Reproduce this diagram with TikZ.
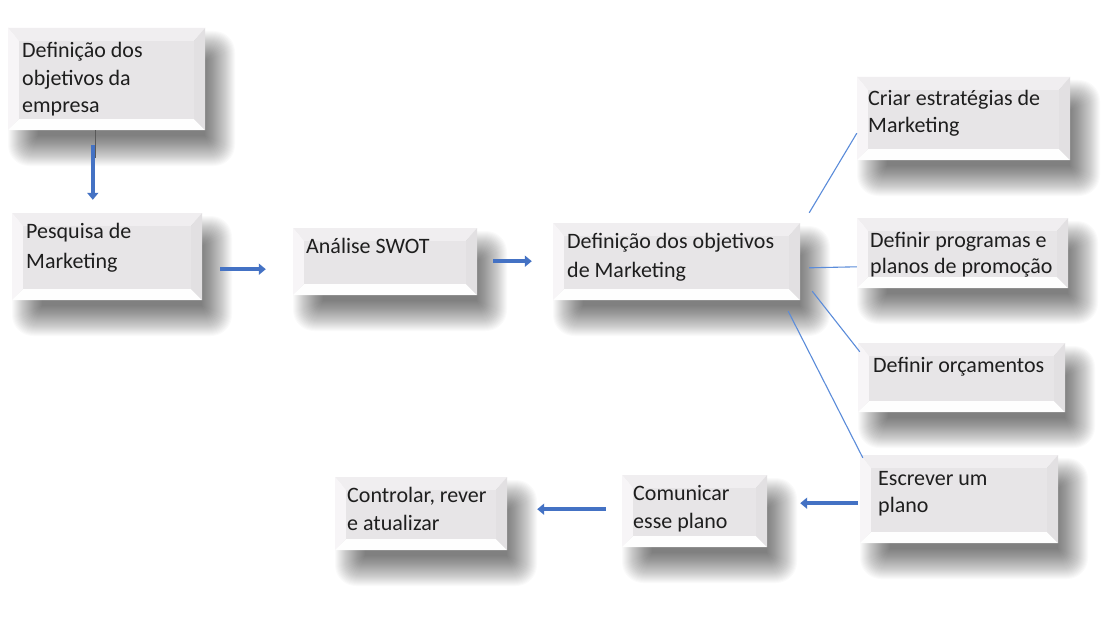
\documentclass[tikz,border=0pt]{standalone}
\usepackage{fontspec}
\setmainfont{Carlito}
\usetikzlibrary{arrows.meta,calc,fit}
\definecolor{bevin}{RGB}{231,229,231}
\definecolor{bevtop}{RGB}{240,238,240}
\definecolor{bevleft}{RGB}{247,245,247}
\definecolor{bevright}{RGB}{226,224,226}
\definecolor{bevbot}{RGB}{254,254,254}
\definecolor{arrblue}{RGB}{68,114,196}
\definecolor{lineblue}{RGB}{91,140,218}
\definecolor{txtc}{RGB}{30,30,30}
\tikzset{
  arr/.style={draw=arrblue, line width=4.5pt, -{Triangle[length=7pt,width=11pt]}},
  thinl/.style={draw=lineblue, line width=1.1pt},
  txt/.style={inner sep=0pt, anchor=base west, align=left, text=txtc,
    font=\fontsize{22}{28}\selectfont},
  boxnode/.style={inner sep=0pt}
}
\newcommand{\bevbox}[5]{%
  \foreach \s in {-14,-13,...,16} {
    \pgfmathsetmacro\rc{max(0.5,(\s+14)*0.7)}
    \fill[black, opacity=0.021, rounded corners=\rc pt]
      (#2+16-\s, #3+19-\s) rectangle (#4+14+\s, #5+20+\s);
  }
  \fill[bevtop] (#2,#3) -- (#4,#3) -- (#4-11,#3+13) -- (#2+11,#3+13) -- cycle;
  \fill[bevleft] (#2,#3) -- (#2+11,#3+13) -- (#2+11,#5-11) -- (#2,#5) -- cycle;
  \fill[bevright] (#4,#3) -- (#4-11,#3+13) -- (#4-11,#5-11) -- (#4,#5) -- cycle;
  \fill[bevbot] (#2,#5) -- (#2+11,#5-11) -- (#4-11,#5-11) -- (#4,#5) -- cycle;
  \fill[bevin] (#2+11,#3+13) rectangle (#4-11,#5-11);
  \node[boxnode, fit={(#2,#3) (#4,#5)}] (#1) {};
}
\begin{document}
\begin{tikzpicture}[x=1pt,y=-1pt]
\useasboundingbox[fill=white] (0,0) rectangle (1102,623);

\bevbox{b1}{8}{28}{205}{130}
\bevbox{b2}{12}{213}{202}{300}
\bevbox{b3}{293}{228}{477}{295}
\bevbox{b4}{553}{223}{800}{300}
\bevbox{b5}{857}{77}{1070}{160}
\bevbox{b6}{857}{218}{1068}{288}
\bevbox{b7}{858}{343}{1065}{412}
\bevbox{b8}{860}{455}{1058}{543}
\bevbox{b9}{622}{475}{767}{547}
\bevbox{b10}{335}{477}{507}{550}

% anchor = baseline of the last line
\node[txt, font=\fontsize{22}{27.5}\selectfont] (t1) at (22,113) {Definição dos\\objetivos da\\empresa};
\node[txt, font=\fontsize{22}{30}\selectfont] (t2) at (26,268) {Pesquisa de\\Marketing};
\node[txt] (t3) at (306,253) {Análise SWOT};
\node[txt, font=\fontsize{22}{29}\selectfont] (t4) at (567,277) {Definição dos objetivos\\de Marketing};
\node[txt, font=\fontsize{22}{27}\selectfont] (t5) at (868,132) {Criar estratégias de\\Marketing};
\node[txt, font=\fontsize{22}{26}\selectfont] (t6) at (870,273) {Definir programas e\\planos de promoção};
\node[txt] (t7) at (873,372) {Definir orçamentos};
\node[txt, font=\fontsize{22}{27}\selectfont] (t8) at (878,512) {Escrever um\\plano};
\node[txt] (t9) at (633,528) {Comunicar\\esse plano};
\node[txt] (t10) at (347,530) {Controlar, rever\\e atualizar};

% thin grey stub below first box
\draw[gray!70!black, line width=0.8pt] ($(b1.south west)+(88,0)$) -- ($(b1.south west)+(88,28)$);

% thick arrows
\draw[arr] ($(b1.south west)+(85,15)$) -- ($(b2.north west)+(81,-13)$);
\draw[arr] ($(b2.south east)+(18,-31)$) -- ($(b3.south west)+(-27,-26)$);
\draw[arr] ($(b3.south east)+(16,-34)$) -- ($(b4.south west)+(-21,-39)$);
\draw[arr] ($(b8.south west)+(-2,-40)$) -- ($(b9.south east)+(33,-44)$);
\draw[arr] ($(b9.south west)+(-16,-38)$) -- ($(b10.south east)+(30,-41)$);

% thin connectors
\draw[thinl] ($(b4.north east)+(9,-10)$) -- ($(b5.south west)+(0,-27)$);
\draw[thinl] ($(b4.north east)+(9,45)$) -- ($(b6.north west)+(0,49)$);
\draw[thinl] ($(b4.south east)+(12,-9)$) -- ($(b7.north west)+(2,9)$);
\draw[thinl] ($(b4.south east)+(-12,11)$) -- ($(b8.north west)+(3,3)$);
\end{tikzpicture}
\end{document}
